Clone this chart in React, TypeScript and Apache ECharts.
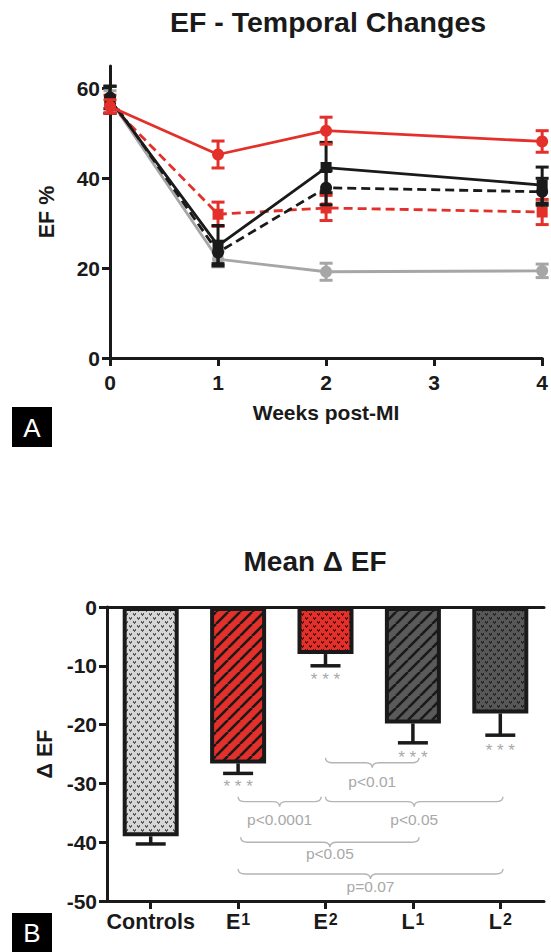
import React, { useEffect, useRef } from "react";
import * as echarts from "echarts";

// ---------- Panel A data ----------
const weeks = [0, 1, 2, 4];
const weekTicks = [0, 1, 2, 3, 4];
const efTicks = [0, 20, 40, 60];

const efControls = [57.5, 22.0, 19.2, 19.4];
const efControlsSem = [2.0, 1.7, 1.9, 1.5];
const efE1 = [56.5, 32.0, 33.4, 32.5];
const efE1Sem = [2.0, 2.7, 2.8, 2.8];
const efE2 = [56.0, 45.3, 50.6, 48.2];
const efE2Sem = [1.5, 3.0, 3.0, 2.4];
const efL1 = [58.0, 23.5, 37.9, 37.0];
const efL1Sem = [2.5, 2.5, 3.8, 3.0];
const efL2 = [57.5, 25.0, 42.4, 38.5];
const efL2Sem = [3.0, 4.5, 5.6, 4.0];

// ---------- Panel B data ----------
const groups = ["Controls", "E1", "E2", "L1", "L2"];
const deltaEF = [-39.0, -26.6, -8.0, -19.8, -18.1];
const deltaSem = [1.3, 1.7, 2.0, 3.3, 3.7];
const deltaTicks = [0, -10, -20, -30, -40, -50];

const starGroups = [1, 2, 3, 4];
const starValues = [-30.5, -12.4, -25.6, -24.4];

const bracketFrom = [2.0, 1.0, 2.0, 1.03, 1.0];
const bracketTo = [3.07, 1.95, 4.03, 3.07, 4.03];
const bracketY = [-26.5, -33.1, -33.1, -40.0, -45.4];
const bracketLabelY = [-29.6, -36.1, -36.1, -41.9, -47.6];
const bracketLabels = ["p<0.01", "p<0.0001", "p<0.05", "p<0.05", "p=0.07"];

const FONT = "'Liberation Sans', Arial, sans-serif";
const INK = "#1a1a1a";
const RED = "#e4302a";
const GRAY = "#a6a6a6";
const PGRAY = "#a8a8a8";

function makePattern(bg: string, fg: string, kind: "hearts" | "stripes") {
  const s = kind === "stripes" ? 12 : 8;
  const c = document.createElement("canvas");
  c.width = s;
  c.height = s;
  const ctx = c.getContext("2d")!;
  ctx.fillStyle = bg;
  ctx.fillRect(0, 0, s, s);
  if (kind === "stripes") {
    ctx.strokeStyle = fg;
    ctx.lineWidth = 2.6;
    ctx.beginPath();
    for (const o of [-s, 0, s]) {
      ctx.moveTo(o, s);
      ctx.lineTo(o + s, 0);
    }
    ctx.stroke();
  } else {
    ctx.fillStyle = fg;
    const heart = (x: number, y: number) => {
      ctx.fillRect(x, y, 1, 1);
      ctx.fillRect(x + 2, y, 1, 1);
      ctx.fillRect(x, y + 1, 3, 1);
      ctx.fillRect(x + 1, y + 2, 1, 1);
    };
    heart(1, 1);
    heart(5, 5);
  }
  return { image: c, repeat: "repeat", imageWidth: s, imageHeight: s } as any;
}

function errRender(color: string, cap: number, lw: number) {
  return (params: any, api: any) => {
    const x = api.value(0);
    const m = api.value(1);
    const s = api.value(2);
    const hi = api.coord([x, m + s]);
    const lo = api.coord([x, m - s]);
    const st = { stroke: color, lineWidth: lw };
    return {
      type: "group",
      children: [
        { type: "line", shape: { x1: hi[0], y1: hi[1], x2: lo[0], y2: lo[1] }, style: st },
        { type: "line", shape: { x1: hi[0] - cap / 2, y1: hi[1], x2: hi[0] + cap / 2, y2: hi[1] }, style: st },
        { type: "line", shape: { x1: lo[0] - cap / 2, y1: lo[1], x2: lo[0] + cap / 2, y2: lo[1] }, style: st },
      ],
    };
  };
}

export default function App() {
  const ref = useRef<HTMLDivElement>(null);

  useEffect(() => {
    if (!ref.current) return;
    const chart = echarts.init(ref.current, undefined, { renderer: "svg" });

    const lineGroups = [
      { name: "Controls", v: efControls, e: efControlsSem, color: GRAY, dash: "solid", sym: "circle" },
      { name: "E1", v: efE1, e: efE1Sem, color: RED, dash: [9, 5], sym: "rect" },
      { name: "L1", v: efL1, e: efL1Sem, color: INK, dash: [9, 5], sym: "circle" },
      { name: "L2", v: efL2, e: efL2Sem, color: INK, dash: "solid", sym: "rect" },
      { name: "E2", v: efE2, e: efE2Sem, color: RED, dash: "solid", sym: "circle" },
    ];

    const topSeries: any[] = [];
    lineGroups.forEach((g, k) => {
      topSeries.push({
        type: "custom",
        xAxisIndex: 0,
        yAxisIndex: 0,
        z: 2 + k * 2,
        renderItem: errRender(g.color, 13, 3),
        data: weeks.map((w, i) => [w, g.v[i], g.e[i]]),
        silent: true,
      });
      topSeries.push({
        type: "line",
        name: g.name,
        xAxisIndex: 0,
        yAxisIndex: 0,
        z: 3 + k * 2,
        data: weeks.map((w, i) => [w, g.v[i]]),
        symbol: g.sym,
        symbolSize: g.sym === "rect" ? 11 : 12,
        showSymbol: true,
        lineStyle: { color: g.color, width: 2.8, type: g.dash },
        itemStyle: { color: g.color },
        silent: true,
      });
    });

    const barFills = [
      makePattern("#d6d6d6", "#5a5a5a", "hearts"),
      makePattern(RED, INK, "stripes"),
      makePattern(RED, "#5a0e0a", "hearts"),
      makePattern("#5a5a5a", INK, "stripes"),
      makePattern("#575757", "#262626", "hearts"),
    ];

    const axisLine = { show: true, onZero: false, lineStyle: { color: INK, width: 3 } };
    const tickStyle = { show: true, length: 8, lineStyle: { color: INK, width: 3 } };
    const labelStyle = { color: INK, fontSize: 21, fontWeight: "bold", fontFamily: FONT };

    const option: any = {
      animation: false,
      backgroundColor: "#ffffff",
      title: [
        {
          text: "EF - Temporal Changes",
          left: 328,
          top: 7,
          textAlign: "center",
          padding: 0,
          textStyle: { fontSize: 28.5, fontWeight: "bold", color: INK, fontFamily: FONT },
        },
        {
          text: "Mean Δ EF",
          left: 315,
          top: 547,
          textAlign: "center",
          padding: 0,
          textStyle: { fontSize: 28, fontWeight: "bold", color: INK, fontFamily: FONT },
        },
      ],
      grid: [
        { left: 110, right: 4, top: 66, height: 292 },
        { left: 107, right: 7, top: 607, height: 294 },
      ],
      xAxis: [
        {
          type: "value",
          gridIndex: 0,
          min: 0,
          max: 4,
          interval: 1,
          axisLine,
          axisTick: { ...tickStyle, customValues: weekTicks },
          axisLabel: { ...labelStyle, margin: 14, customValues: weekTicks },
          splitLine: { show: false },
          name: "Weeks post-MI",
          nameLocation: "middle",
          nameGap: 44,
          nameTextStyle: { color: INK, fontSize: 21, fontWeight: "bold", fontFamily: FONT },
        },
        {
          type: "category",
          gridIndex: 1,
          data: groups,
          position: "bottom",
          axisLine,
          axisTick: { ...tickStyle, alignWithLabel: true },
          axisLabel: {
            margin: 10,
            formatter: (v: string) =>
              v.length > 2 ? `{b|${v}}` : `{b|${v[0]}}{s|${v.slice(1)}}`,
            rich: {
              b: { color: INK, fontSize: 21.5, fontWeight: "bold", fontFamily: FONT },
              s: {
                color: INK,
                fontSize: 16,
                fontWeight: "bold",
                fontFamily: FONT,
                verticalAlign: "top",
                padding: [0, 0, 0, 1],
              },
            },
          },
          splitLine: { show: false },
        },
        {
          type: "value",
          gridIndex: 1,
          min: -0.5,
          max: 4.5,
          position: "top",
          axisLine,
          axisTick: { show: false },
          axisLabel: { show: false },
          splitLine: { show: false },
        },
      ],
      yAxis: [
        {
          type: "value",
          gridIndex: 0,
          min: 0,
          max: 65,
          interval: 20,
          axisLine,
          axisTick: { ...tickStyle, customValues: efTicks },
          axisLabel: { ...labelStyle, margin: 10, customValues: efTicks },
          splitLine: { show: false },
          name: "EF %",
          nameLocation: "middle",
          nameGap: 52,
          nameTextStyle: { color: INK, fontSize: 21.5, fontWeight: "bold", fontFamily: FONT },
        },
        {
          type: "value",
          gridIndex: 1,
          min: -50,
          max: 0,
          interval: 10,
          axisLine,
          axisTick: { ...tickStyle, customValues: deltaTicks },
          axisLabel: { ...labelStyle, margin: 10, customValues: deltaTicks },
          splitLine: { show: false },
          name: "Δ EF",
          nameLocation: "middle",
          nameGap: 49,
          nameTextStyle: { color: INK, fontSize: 21.5, fontWeight: "bold", fontFamily: FONT },
        },
      ],
      graphic: [
        { type: "rect", shape: { x: 12, y: 407, width: 40, height: 40 }, style: { fill: "#000" } },
        {
          type: "text",
          x: 32,
          y: 428,
          style: { text: "A", fill: "#fff", font: `26px ${FONT}`, align: "center", verticalAlign: "middle" },
        },
        { type: "rect", shape: { x: 12, y: 913, width: 40, height: 39 }, style: { fill: "#000" } },
        {
          type: "text",
          x: 32,
          y: 933,
          style: { text: "B", fill: "#fff", font: `26px ${FONT}`, align: "center", verticalAlign: "middle" },
        },
      ],
      series: [
        ...topSeries,
        {
          type: "bar",
          xAxisIndex: 1,
          yAxisIndex: 1,
          barWidth: 56,
          data: deltaEF.map((v, i) => ({
            value: v,
            itemStyle: { color: barFills[i], borderColor: INK, borderWidth: 4 },
          })),
          silent: true,
          z: 2,
        },
        {
          type: "custom",
          xAxisIndex: 1,
          yAxisIndex: 1,
          z: 3,
          silent: true,
          data: deltaEF.map((v, i) => [i, v, deltaSem[i]]),
          renderItem: (params: any, api: any) => {
            const i = api.value(0);
            const m = api.value(1);
            const s = api.value(2);
            const a = api.coord([i, m]);
            const b = api.coord([i, m - s]);
            const st = { stroke: INK, lineWidth: 3.5 };
            return {
              type: "group",
              children: [
                { type: "line", shape: { x1: a[0], y1: a[1], x2: b[0], y2: b[1] }, style: st },
                { type: "line", shape: { x1: b[0] - 15, y1: b[1], x2: b[0] + 15, y2: b[1] }, style: st },
              ],
            };
          },
        },
        {
          type: "custom",
          xAxisIndex: 1,
          yAxisIndex: 1,
          z: 3,
          silent: true,
          data: starGroups.map((g, i) => [g, starValues[i]]),
          renderItem: (params: any, api: any) => {
            const p = api.coord([api.value(0), api.value(1)]);
            return {
              type: "text",
              x: p[0],
              y: p[1],
              style: {
                text: "* * *",
                fill: PGRAY,
                font: `17px ${FONT}`,
                align: "center",
                verticalAlign: "middle",
              },
            };
          },
        },
        {
          type: "custom",
          xAxisIndex: 2,
          yAxisIndex: 1,
          z: 3,
          silent: true,
          data: bracketFrom.map((f, i) => [f, bracketY[i], bracketTo[i], bracketLabelY[i]]),
          renderItem: (params: any, api: any) => {
            const from = api.value(0);
            const y = api.value(1);
            const to = api.value(2);
            const ly = api.value(3);
            const pa = api.coord([from, y]);
            const pb = api.coord([to, y]);
            const a = pa[0];
            const b = pb[0];
            const yy = pa[1];
            const m = (a + b) / 2;
            const h = 5;
            const r = 7;
            const d =
              `M${a},${yy - h} Q${a},${yy} ${a + r},${yy} L${m - r},${yy} ` +
              `Q${m},${yy} ${m},${yy + h} Q${m},${yy} ${m + r},${yy} ` +
              `L${b - r},${yy} Q${b},${yy} ${b},${yy - h}`;
            const lp = api.coord([(from + to) / 2, ly]);
            return {
              type: "group",
              children: [
                {
                  type: "path",
                  shape: { pathData: d },
                  style: { fill: "none", stroke: "#b4b4b4", lineWidth: 1.4 },
                },
                {
                  type: "text",
                  x: lp[0],
                  y: lp[1],
                  style: {
                    text: bracketLabels[params.dataIndex],
                    fill: PGRAY,
                    font: `15.5px ${FONT}`,
                    align: "center",
                    verticalAlign: "middle",
                  },
                },
              ],
            };
          },
        },
      ],
    };

    chart.setOption(option);
    return () => chart.dispose();
  }, []);

  return (
    <div
      ref={ref}
      style={{ position: "absolute", left: 0, top: 0, width: 551, height: 952, background: "#fff" }}
    />
  );
}
